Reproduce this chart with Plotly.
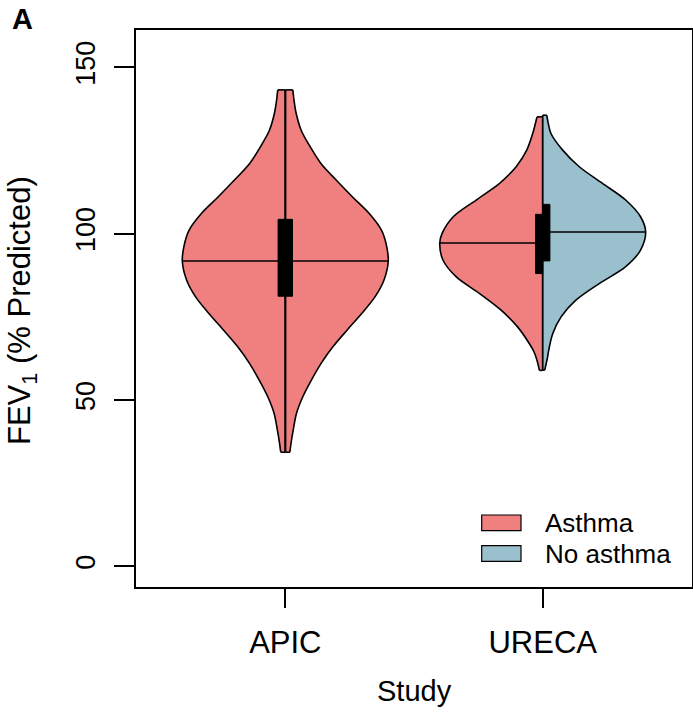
import numpy as np
import plotly.graph_objects as go

# ---------------- data ----------------
studies = ["APIC", "URECA"]
study_pos = [1, 2]
y_ticks = [0, 50, 100, 150]

# APIC (asthma only, full violin): density profile (relative half-width, max = 1)
apic_levels = [34.3, 37.5, 40.8, 46.0, 50.9, 55.9, 61.0, 65.9, 70.9, 76.0, 81.0, 86.0,
               91.7, 96.4, 101.0, 106.1, 111.0, 116.1, 121.0, 126.1, 131.0, 136.1, 140.0, 143.2]
apic_density = [0.044, 0.058, 0.076, 0.109, 0.169, 0.252, 0.348, 0.460, 0.597, 0.742,
                0.871, 0.958, 1.000, 0.983, 0.935, 0.813, 0.653, 0.494, 0.348, 0.242,
                0.155, 0.106, 0.085, 0.073]
apic_median = 91.8
apic_q1, apic_q3 = 81.2, 104.3

# URECA asthma (left half)
ureca_a_levels = [58.9, 61.9, 64.5, 66.9, 71.9, 77.0, 82.0, 87.0, 92.0, 97.2, 100.0,
                  105.0, 110.1, 115.1, 120.1, 125.1, 130.1, 135.1]
ureca_a_density = [0.032, 0.055, 0.085, 0.129, 0.242, 0.404, 0.613, 0.839, 0.968, 1.000,
                   0.978, 0.871, 0.646, 0.419, 0.258, 0.155, 0.097, 0.055]
ureca_a_median = 97.2
ureca_a_q1, ureca_a_q3 = 88.0, 105.8

# URECA no asthma (right half)
ureca_n_levels = [59.0, 59.9, 62.5, 64.9, 69.9, 74.9, 80.0, 85.0, 90.0, 95.0, 100.5,
                  105.0, 110.1, 115.1, 120.1, 125.1, 130.1, 133.0, 135.6]
ureca_n_density = [0.020, 0.026, 0.045, 0.058, 0.097, 0.177, 0.322, 0.549, 0.803, 0.949,
                   1.000, 0.952, 0.806, 0.581, 0.355, 0.194, 0.080, 0.055, 0.039]
ureca_n_median = 100.5
ureca_n_q1, ureca_n_q3 = 91.8, 108.8

legend_labels = ["Asthma", "No asthma"]

# ---------------- style ----------------
C_ASTHMA = "#F08080"
C_NO = "#9AC0CD"
FONT = "Liberation Sans, Arial, Helvetica, sans-serif"
MAXW = 0.40      # max half width of a violin (x units)
BOXW = 0.028     # half width of IQR box (x units)

W, H = 693, 712
L, R, T, B = 136, 1, 30, 125
pw, ph = W - L - R, H - T - B

fig = go.Figure()


def side_curve(center, levels, dens, sign, color, outline=True):
    """One smooth edge of a violin, filled to the centre line."""
    lv = np.array(levels, float)
    d = np.array(dens, float) * MAXW
    xs = center + sign * d
    fig.add_trace(go.Scatter(x=np.concatenate([[center], xs, [center]]),
                             y=np.concatenate([[lv[0]], lv, [lv[-1]]]),
                             mode="lines", fill="toself", fillcolor=color,
                             line=dict(color="rgba(0,0,0,0)", width=0, shape="spline",
                                       smoothing=0.9),
                             hoverinfo="skip", showlegend=False))
    if outline:
        fig.add_trace(go.Scatter(x=xs, y=lv, mode="lines",
                                 line=dict(color="black", width=1.6, shape="spline",
                                           smoothing=0.9),
                                 hoverinfo="skip", showlegend=False))
        for k in (0, -1):
            fig.add_trace(go.Scatter(x=[center, xs[k]], y=[lv[k], lv[k]], mode="lines",
                                     line=dict(color="black", width=1.6),
                                     hoverinfo="skip", showlegend=False))


def hline(center, levels, dens, med, side):
    w = float(np.interp(med, levels, dens)) * MAXW
    if side == "both":
        x0, x1 = center - w, center + w
    elif side == "left":
        x0, x1 = center - w, center
    else:
        x0, x1 = center, center + w
    fig.add_trace(go.Scatter(x=[x0, x1], y=[med, med], mode="lines",
                             line=dict(color="black", width=1.5),
                             hoverinfo="skip", showlegend=False))


def box(x0, x1, q1, q3):
    fig.add_trace(go.Scatter(x=[x0, x1, x1, x0, x0], y=[q1, q1, q3, q3, q1], mode="lines",
                             fill="toself", fillcolor="black",
                             line=dict(color="black", width=1),
                             hoverinfo="skip", showlegend=False))


def vline(center, lo, hi, width):
    fig.add_trace(go.Scatter(x=[center, center], y=[lo, hi], mode="lines",
                             line=dict(color="black", width=width),
                             hoverinfo="skip", showlegend=False))


# APIC
c1 = study_pos[0]
side_curve(c1, apic_levels, apic_density, -1, C_ASTHMA)
side_curve(c1, apic_levels, apic_density, +1, C_ASTHMA)
vline(c1, min(apic_levels), max(apic_levels), 2.2)
hline(c1, apic_levels, apic_density, apic_median, "both")
box(c1 - BOXW, c1 + BOXW, apic_q1, apic_q3)

# URECA
c2 = study_pos[1]
side_curve(c2, ureca_a_levels, ureca_a_density, -1, C_ASTHMA)
side_curve(c2, ureca_n_levels, ureca_n_density, +1, C_NO)
vline(c2, min(ureca_a_levels + ureca_n_levels), max(ureca_a_levels + ureca_n_levels), 1.8)
hline(c2, ureca_a_levels, ureca_a_density, ureca_a_median, "left")
hline(c2, ureca_n_levels, ureca_n_density, ureca_n_median, "right")
box(c2 - BOXW, c2, ureca_a_q1, ureca_a_q3)
box(c2, c2 + BOXW, ureca_n_q1, ureca_n_q3)


# ---------------- legend (manual, R style) ----------------
def px2paper(x, y):
    return (x - L) / pw, (H - B - y) / ph


shapes = []
annots = []
for i, (lab, col) in enumerate(zip(legend_labels, [C_ASTHMA, C_NO])):
    top = 515 + i * 30.7
    x0, y0 = px2paper(481.7, top + 15.7)
    x1, y1 = px2paper(521, top)
    shapes.append(dict(type="rect", xref="paper", yref="paper", x0=x0, x1=x1, y0=y0, y1=y1,
                       fillcolor=col, line=dict(color="black", width=1.2), layer="above"))
    tx, ty = px2paper(543, top + 8)
    annots.append(dict(text=lab, xref="paper", yref="paper", x=tx, y=ty, xanchor="left",
                       yanchor="middle", showarrow=False,
                       font=dict(family=FONT, size=26, color="black")))

# axis titles & panel label
ax, ay = px2paper(22, 311)
annots.append(dict(text="FEV<sub>1</sub> (% Predicted)", xref="paper", yref="paper", x=ax, y=ay,
                   textangle=-90, showarrow=False, xanchor="center", yanchor="middle",
                   font=dict(family=FONT, size=31, color="black")))
sx, sy = px2paper(414, 691)
annots.append(dict(text="Study", xref="paper", yref="paper", x=sx, y=sy, showarrow=False,
                   xanchor="center", yanchor="middle",
                   font=dict(family=FONT, size=29, color="black")))
lx, ly = px2paper(22, 19)
annots.append(dict(text="<b>A</b>", xref="paper", yref="paper", x=lx, y=ly, showarrow=False,
                   xanchor="center", yanchor="middle",
                   font=dict(family=FONT, size=29, color="black")))

fig.update_layout(
    width=W, height=H,
    margin=dict(l=L, r=R, t=T, b=B, autoexpand=False),
    paper_bgcolor="white", plot_bgcolor="white",
    showlegend=False,
    shapes=shapes, annotations=annots,
    font=dict(family=FONT, color="black"),
    xaxis=dict(range=[0.42, 2.58], tickvals=study_pos, ticktext=studies,
               showgrid=False, zeroline=False, showline=True, mirror=True,
               linecolor="black", linewidth=2, ticks="outside", ticklen=19,
               tickwidth=1.5, tickcolor="black", tickfont=dict(size=31, family=FONT),
               ticklabelstandoff=8, fixedrange=True),
    yaxis=dict(range=[-6.2, 161.2], tickvals=y_ticks, ticktext=[str(v) for v in y_ticks],
               showgrid=False, zeroline=False, showline=True, mirror=True,
               linecolor="black", linewidth=2, ticks="outside", ticklen=20,
               tickwidth=1.5, tickcolor="black", tickfont=dict(size=27, family=FONT),
               tickangle=-90, ticklabelstandoff=8, fixedrange=True),
)

fig.write_html("out.html")
